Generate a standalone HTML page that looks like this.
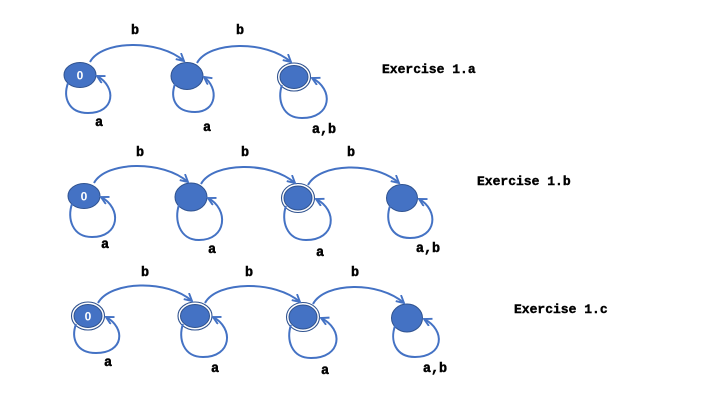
<!DOCTYPE html>
<html>
<head>
<meta charset="utf-8">
<style>
html,body{margin:0;padding:0;background:#fff;}
svg{display:block;}
.lbl{font-family:"Liberation Mono",monospace;font-weight:bold;font-size:13.5px;fill:#000;stroke:#000;stroke-width:0.45;}
.ex{font-family:"Liberation Mono",monospace;font-weight:bold;font-size:13px;fill:#000;stroke:#000;stroke-width:0.4;}
.z{font-family:"Liberation Sans",sans-serif;font-weight:bold;font-size:12px;fill:#fff;}
.e{fill:none;stroke:#4472C4;stroke-width:2;marker-end:url(#ah);}
.n{fill:#4472C4;stroke:#2F528F;stroke-width:1;}
.o{fill:#fff;stroke:#2F528F;stroke-width:1.1;}
</style>
</head>
<body>
<svg width="720" height="405" viewBox="0 0 720 405" xmlns="http://www.w3.org/2000/svg">
<defs>
<marker id="ah" markerUnits="userSpaceOnUse" markerWidth="14" markerHeight="14" refX="8" refY="4.5" orient="auto">
<path d="M0.5,0.5 L8,4.5 L0.5,8.5" fill="none" stroke="#4472C4" stroke-width="1.9"/>
</marker>
</defs>

<!-- Row 1 -->
<ellipse class="n" cx="80" cy="75" rx="16" ry="12.5"/>
<text class="z" x="80" y="79.5" text-anchor="middle">0</text>
<ellipse class="n" cx="187" cy="76" rx="16" ry="13.5"/>
<ellipse class="o" cx="294" cy="77" rx="16.5" ry="14"/>
<ellipse class="n" cx="294" cy="77" rx="14" ry="11.5"/>

<path class="e" d="M90,62 C102,40 159,39 184,61"/>
<path class="e" d="M197,63 C209,41 266,40 291,62"/>

<path class="e" d="M68,83 C63,97 68,113 88,113 C115,113 117,87 97,76"/>
<path class="e" d="M175,84 C170,98 175,112 195,112 C217,112 219,88 204,77"/>
<path class="e" d="M282,85 C277,99 282,118 302,118 C332,118 334,89 312,78"/>

<text class="lbl" x="135" y="34" text-anchor="middle">b</text>
<text class="lbl" x="240" y="34" text-anchor="middle">b</text>
<text class="lbl" x="99" y="126" text-anchor="middle">a</text>
<text class="lbl" x="207" y="131" text-anchor="middle">a</text>
<text class="lbl" x="324" y="133" text-anchor="middle">a,b</text>
<text class="ex" x="382" y="73">Exercise 1.a</text>

<!-- Row 2 -->
<ellipse class="n" cx="84" cy="196" rx="16" ry="12.5"/>
<text class="z" x="84" y="200.5" text-anchor="middle">0</text>
<ellipse class="n" cx="191" cy="197" rx="16" ry="14"/>
<ellipse class="o" cx="298" cy="198" rx="16.5" ry="14.5"/>
<ellipse class="n" cx="298" cy="198" rx="14" ry="12"/>
<ellipse class="n" cx="402" cy="198" rx="15.5" ry="13.5"/>

<path class="e" d="M94,183 C106,161 163,160 188,182"/>
<path class="e" d="M201,184 C213,162 270,161 295,183"/>
<path class="e" d="M308,185 C320,163 374,161 399,183"/>

<path class="e" d="M72,204 C67,218 72,237 92,237 C120,237 122,208 101,197"/>
<path class="e" d="M179,205 C174,219 179,240 199,240 C227,240 229,209 208,198"/>
<path class="e" d="M286,206 C281,220 286,240 306,240 C336,240 338,210 316,199"/>
<path class="e" d="M390,206 C385,220 390,238 410,238 C437,238 439,210 419,199"/>

<text class="lbl" x="140" y="156" text-anchor="middle">b</text>
<text class="lbl" x="245" y="156" text-anchor="middle">b</text>
<text class="lbl" x="351" y="156" text-anchor="middle">b</text>
<text class="lbl" x="105" y="248" text-anchor="middle">a</text>
<text class="lbl" x="212" y="253" text-anchor="middle">a</text>
<text class="lbl" x="320" y="256" text-anchor="middle">a</text>
<text class="lbl" x="428" y="252" text-anchor="middle">a,b</text>
<text class="ex" x="477" y="185">Exercise 1.b</text>

<!-- Row 3 -->
<ellipse class="o" cx="88" cy="316" rx="16.5" ry="14"/>
<ellipse class="n" cx="88" cy="316" rx="14" ry="11.5"/>
<text class="z" x="88" y="320.5" text-anchor="middle">0</text>
<ellipse class="o" cx="195" cy="316" rx="17" ry="14"/>
<ellipse class="n" cx="195" cy="316" rx="14.5" ry="11.5"/>
<ellipse class="o" cx="303" cy="317" rx="16.5" ry="14.5"/>
<ellipse class="n" cx="303" cy="317" rx="14" ry="12"/>
<ellipse class="n" cx="407" cy="318" rx="15.5" ry="14"/>

<path class="e" d="M98,303 C110,281 167,279 192,301"/>
<path class="e" d="M205,303 C217,281 275,280 300,302"/>
<path class="e" d="M313,304 C325,282 379,281 404,303"/>

<path class="e" d="M76,324 C71,338 76,353 96,353 C124,353 126,328 106,317"/>
<path class="e" d="M183,324 C178,338 183,357 203,357 C232,357 234,328 213,317"/>
<path class="e" d="M291,325 C286,339 291,358 311,358 C342,358 344,329 321,318"/>
<path class="e" d="M395,326 C390,340 395,357 415,357 C444,357 446,330 424,319"/>

<text class="lbl" x="145" y="276" text-anchor="middle">b</text>
<text class="lbl" x="249" y="276" text-anchor="middle">b</text>
<text class="lbl" x="355" y="276" text-anchor="middle">b</text>
<text class="lbl" x="108" y="366" text-anchor="middle">a</text>
<text class="lbl" x="215" y="372" text-anchor="middle">a</text>
<text class="lbl" x="325" y="374" text-anchor="middle">a</text>
<text class="lbl" x="435" y="372" text-anchor="middle">a,b</text>
<text class="ex" x="514" y="313">Exercise 1.c</text>
</svg>
</body>
</html>
